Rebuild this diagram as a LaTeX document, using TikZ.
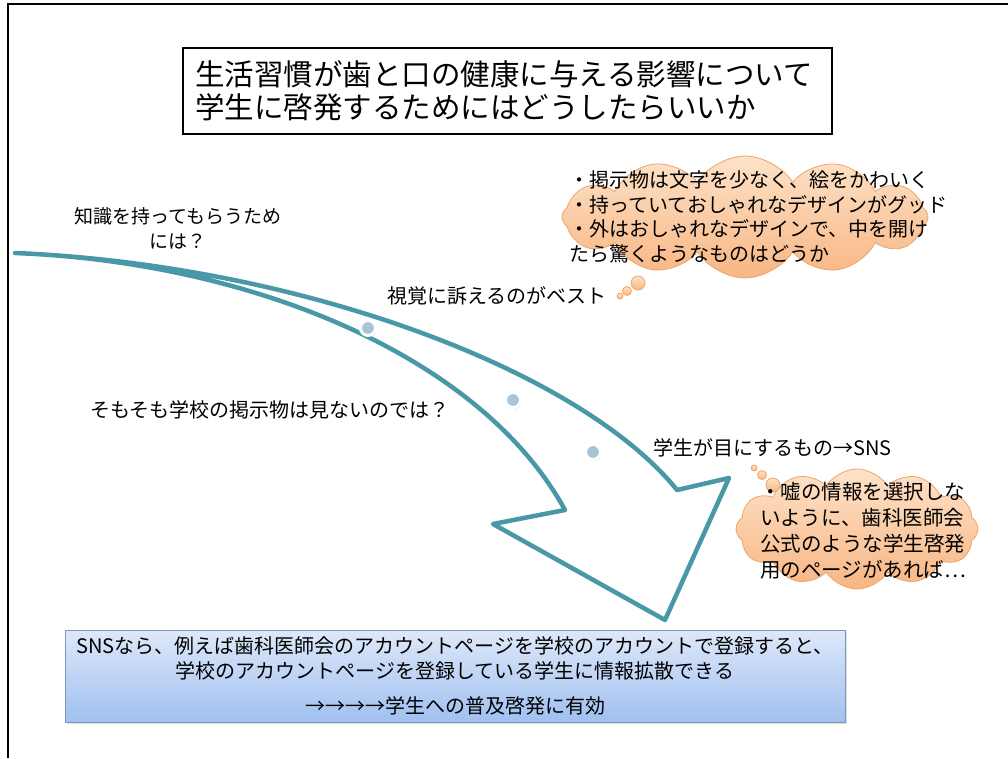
\documentclass[tikz,border=0pt]{standalone}
\usepackage{fontspec}
\setmainfont{Noto Sans CJK JP}
\usetikzlibrary{shapes.symbols,shadows}
\definecolor{arrowteal}{RGB}{72,152,168}
\definecolor{pufftop}{RGB}{253,226,200}
\definecolor{puffbot}{RGB}{248,182,132}
\definecolor{puffline}{RGB}{238,165,105}
\definecolor{boxtop}{RGB}{222,232,249}
\definecolor{boxbot}{RGB}{160,192,240}
\definecolor{boxline}{RGB}{125,150,185}
\definecolor{dotblue}{RGB}{168,196,214}

\begin{document}
\begin{tikzpicture}[x=1pt, y=-1pt,
    txt/.style={inner sep=0pt, font=\fontsize{20}{25}\selectfont},
    puffy/.style={cloud, cloud puffs=12, cloud puff arc=115, draw=puffline, line width=0.8pt,
        top color=pufftop, bottom color=puffbot, inner sep=0pt},
    bubble/.style={draw=puffline, line width=0.8pt, top color=pufftop, bottom color=puffbot},
    dot/.style={circle, minimum size=15pt, inner sep=0pt, fill=dotblue, draw=white, line width=3pt,
        drop shadow={opacity=0.3, fill=gray, shadow xshift=1pt, shadow yshift=-1.5pt}}]
    \useasboundingbox (0,0) rectangle (1008,758);
    \draw[line width=2pt] (1008,4)--(8,4)--(8,758);

    \node[draw, line width=2pt, text width=625pt, inner xsep=12pt, minimum height=86pt, align=left,
        font=\fontsize{29.5}{33}\selectfont] (title) at (507.5,91)
        {生活習慣が歯と口の健康に与える影響について\\学生に啓発するためにはどうしたらいいか};

    \coordinate (tail) at (15,253);
    \coordinate (inR) at (677,490);
    \coordinate (outR) at (729,478);
    \coordinate (tip) at (665,620);
    \coordinate (outL) at (493,524);
    \coordinate (inL) at (565,510);
    \draw[arrowteal, line width=4.5pt, line join=round, fill=white]
        (tail) .. controls (300,265) and (580,370) .. (inR) -- (outR) -- (tip) -- (outL) -- (inL)
        .. controls (480,355) and (250,262) .. (tail) -- cycle;
    \node[dot] (d1) at (368,328) {};
    \node[dot] (d2) at (513,400) {};
    \node[dot] (d3) at (593,452) {};

    \node[txt, align=center, font=\fontsize{19}{25}\selectfont] (know) at (178,228)
        {知識を持ってもらうため\\には？};
    \node[txt] (visual) at (497,296) {視覚に訴えるのがベスト};
    \node[txt, anchor=west] (notsee) at (90,410) {そもそも学校の掲示物は見ないのでは？};
    \node[txt, anchor=west] (sns) at (653,448) {学生が目にするもの→SNS};

    \node[puffy, minimum width=366pt, minimum height=122pt, aspect=3] (cloudA) at (745,217) {};
    \path[bubble] (638,283) circle (7pt);
    \path[bubble] (627,291) circle (4.5pt);
    \path[bubble] (620,296) circle (3pt);
    \node[txt, anchor=west, align=left, font=\fontsize{20}{24.5}\selectfont] (ideaA) at (569,217)
        {・掲示物は文字を少なく、絵をかわいく\\・持っていておしゃれなデザインがグッド\\・外はおしゃれなデザインで、中を開け\\たら驚くようなものはどうか};

    \node[puffy, minimum width=242pt, minimum height=120pt, aspect=2] (cloudB) at (857,529) {};
    \path[bubble] (773,485) circle (7pt);
    \path[bubble] (762,475) circle (4.5pt);
    \path[bubble] (754,468) circle (3pt);
    \node[txt, anchor=west, align=left, font=\fontsize{20.5}{26}\selectfont] (ideaB) at (760,531)
        {・嘘の情報を選択しな\\いように、歯科医師会\\公式のような学生啓発\\用のページがあれば…};

    \node[draw=boxline, line width=0.8pt, top color=boxtop, bottom color=boxbot,
        minimum width=780pt, minimum height=92pt, align=center, inner sep=0pt,
        font=\fontsize{20}{25}\selectfont,
        drop shadow={opacity=0.25, shadow xshift=2pt, shadow yshift=-2pt}] (result) at (455,676)
        {SNSなら、例えば歯科医師会のアカウントページを学校のアカウントで登録すると、\\
         学校のアカウントページを登録している学生に情報拡散できる\\[10pt]
         →→→→学生への普及啓発に有効};
\end{tikzpicture}
\end{document}
